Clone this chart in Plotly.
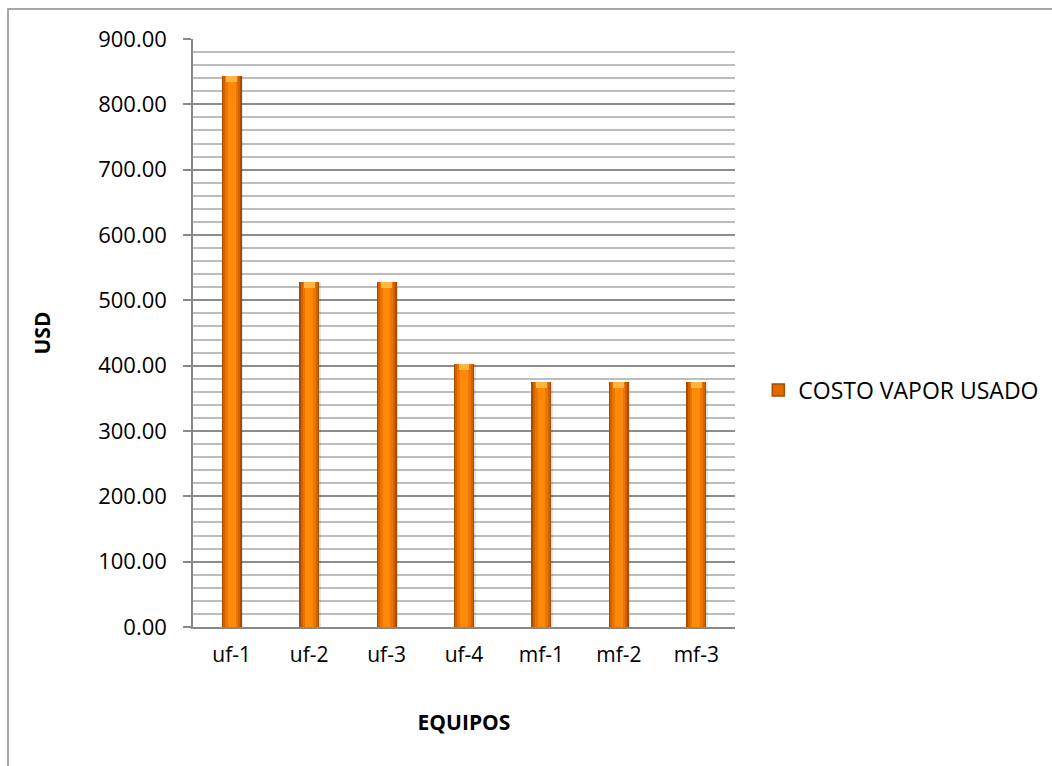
import plotly.graph_objects as go

# Costo de vapor usado por equipo (USD)
equipos = ["uf-1", "uf-2", "uf-3", "uf-4", "mf-1", "mf-2", "mf-3"]
costo_vapor = [843.0, 528.0, 528.0, 402.0, 375.0, 375.0, 375.0]
serie = "COSTO VAPOR USADO"
y_ticks = [0, 100, 200, 300, 400, 500, 600, 700, 800, 900]

FONT = "Open Sans"
W, H = 1052, 766
L, R, T, B = 193, 317, 39, 139

fig = go.Figure()

# soft drop shadow to the right of each bar
fig.add_trace(go.Bar(x=equipos, y=costo_vapor, width=0.27, offset=-0.12,
                     marker=dict(color="rgba(0,0,0,0.10)", line=dict(width=0)),
                     showlegend=False, hoverinfo="skip"))
# layered fills give the bars a rounded, shaded look
layers = [(0.26, "#A84C00"), (0.22, "#D06200"), (0.17, "#EE7400"), (0.10, "#FF8A0A")]
for i, (w, c) in enumerate(layers):
    fig.add_trace(go.Bar(x=equipos, y=costo_vapor, width=w, name=serie,
                         marker=dict(color=c, line=dict(width=0)),
                         showlegend=False, hoverinfo="skip" if i else None))
# bright bevel at the top of each bar
cap = 9
fig.add_trace(go.Bar(x=equipos, y=[cap] * len(costo_vapor),
                     base=[v - cap for v in costo_vapor], width=0.14,
                     marker=dict(color="#FFB640", line=dict(width=0)),
                     showlegend=False, hoverinfo="skip"))
# legend entry
fig.add_trace(go.Bar(x=[None], y=[None], name=serie,
                     marker=dict(color="#E06A00", line=dict(color="#A84C00", width=1.5)),
                     showlegend=True))

fig.update_layout(
    width=W, height=H,
    margin=dict(l=L, r=R, t=T, b=B, pad=0, autoexpand=False),
    paper_bgcolor="white", plot_bgcolor="white",
    barmode="overlay", bargap=0,
    font=dict(family=FONT, size=22, color="#000000"),
    showlegend=True,
    legend=dict(x=1.043, y=0.403, xanchor="left", yanchor="middle",
                font=dict(family=FONT, size=23, color="#000000"),
                itemwidth=30, bgcolor="rgba(0,0,0,0)"),
    xaxis=dict(
        range=[-0.5, 6.5], showgrid=False, zeroline=False,
        showline=True, linecolor="#888888", linewidth=1.5,
        ticks="", tickfont=dict(family=FONT, size=21),
        ticklabelstandoff=8,
        title=dict(text="<b>EQUIPOS</b>", font=dict(family=FONT, size=21), standoff=48),
    ),
    yaxis=dict(
        range=[0, 900], tickvals=y_ticks, tickformat=".2f",
        showgrid=True, gridcolor="#8C8C8C", gridwidth=1.5,
        zeroline=False, showline=True, linecolor="#888888", linewidth=1.5,
        ticks="outside", ticklen=8, tickcolor="#888888", tickwidth=1.5,
        tickfont=dict(family=FONT, size=22), ticklabelstandoff=12,
        minor=dict(dtick=20, showgrid=True, gridcolor="#BDBDBD", gridwidth=1.5, ticks=""),
        title=dict(text="<b>USD</b>", font=dict(family=FONT, size=21), standoff=42),
    ),
)

# outer chart frame
fig.add_shape(type="rect", xref="paper", yref="paper",
              x0=(8 - L) / (W - L - R), x1=(W + 5 - L) / (W - L - R),
              y0=-(H + 5 - (H - B)) / (H - T - B), y1=((H - B) - 9) / (H - T - B),
              line=dict(color="#8C8C8C", width=1.5), fillcolor="rgba(0,0,0,0)",
              layer="below")

fig.write_html("out.html")
